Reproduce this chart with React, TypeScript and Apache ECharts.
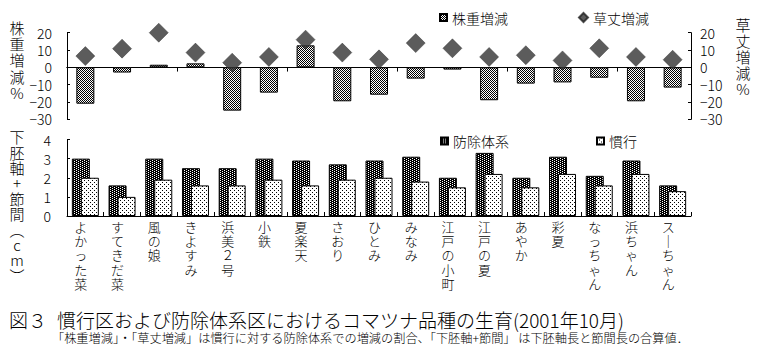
import React, { useEffect, useRef } from 'react';
import * as echarts from 'echarts';

const categories = ['よかった菜', 'すてきだ菜', '風の娘', 'きよすみ', '浜美２号', '小鉄', '夏楽天', 'さおり', 'ひとみ', 'みなみ', '江戸の小町', '江戸の夏', 'あやか', '彩夏', 'なっちゃん', '浜ちゃん', 'スーちゃん'];
const kabujuZogen = [-21, -3, 1.5, 2.3, -25, -14.6, 12.7, -19.6, -15.8, -6.5, -1.3, -19, -9.4, -8.7, -6, -19.6, -11.7];
const kusatakeZogen = [6.5, 10.8, 20, 8.5, 2.7, 6, 16, 8.5, 4.6, 14, 11, 6, 7, 4, 11, 6, 4.4];
const bojoTaikei = [3.0, 1.6, 3.0, 2.5, 2.5, 3.0, 2.9, 2.7, 2.9, 3.1, 2.0, 3.3, 2.0, 3.1, 2.1, 2.9, 1.6];
const kanko = [2.0, 1.0, 1.9, 1.6, 1.6, 1.9, 1.6, 1.9, 2.0, 1.8, 1.5, 2.2, 1.5, 2.2, 1.6, 2.2, 1.3];
const topTicks = { min: -30, max: 20, interval: 10 };
const bottomTicks = { min: 0, max: 4, interval: 1 };

const FONT = "'Noto Sans CJK JP', sans-serif";

function makePattern(w: number, h: number, bg: string, fg: string, dots: number[][]) {
  const c = document.createElement('canvas');
  c.width = w;
  c.height = h;
  const ctx = c.getContext('2d')!;
  ctx.fillStyle = bg;
  ctx.fillRect(0, 0, w, h);
  ctx.fillStyle = fg;
  dots.forEach(([x, y]) => ctx.fillRect(x, y, 1, 1));
  return { image: c, repeat: 'repeat', imageWidth: w, imageHeight: h } as any;
}

export default function App() {
  const ref = useRef<HTMLDivElement>(null);
  useEffect(() => {
    if (!ref.current) return;
    const chart = echarts.init(ref.current, null, { renderer: 'svg' });
    const checker = makePattern(2, 2, '#ffffff', '#000000', [[0, 0], [1, 1]]);
    const darkDots = makePattern(4, 2, '#000000', '#ffffff', [[0, 0], [2, 1]]);
    const lightDots = makePattern(4, 4, '#ffffff', '#000000', [[0, 0], [2, 2]]);

    const numFmt = (v: number) => String(v).replace('-', '−');
    const txt = { color: '#000', fontFamily: FONT, fontWeight: 300 };
    const line = { lineStyle: { color: '#000', width: 1 } };

    const option: any = {
      animation: false,
      textStyle: { fontFamily: FONT, color: '#000' },
      grid: [
        { left: 67, right: 71, top: 32.7, height: 86.6 },
        { left: 67, right: 71, top: 139.5, height: 76.5 },
      ],
      xAxis: [
        {
          type: 'category', gridIndex: 0, data: categories,
          axisLine: { show: true, onZero: true, onZeroAxisIndex: 0, ...line },
          axisTick: { show: true, inside: false, length: 4, ...line },
          axisLabel: { show: false },
        },
        {
          type: 'category', gridIndex: 0, data: categories,
          axisLine: { show: true, onZero: true, onZeroAxisIndex: 0, ...line },
          axisTick: { show: true, inside: true, length: 4, ...line },
          axisLabel: { show: false },
        },
        {
          type: 'category', gridIndex: 1, data: categories, position: 'bottom',
          axisLine: { show: true, onZero: false, ...line },
          axisTick: { show: true, inside: true, length: 4, ...line },
          axisLabel: {
            interval: 0, margin: 3, fontSize: 13, lineHeight: 14.3, ...txt,
            padding: [0, 9, 0, 0],
            formatter: (v: string) => v.replace(/ー/g, '｜').split('').join('\n'),
          },
        },
      ],
      yAxis: [
        {
          type: 'value', gridIndex: 0, position: 'left', ...topTicks,
          splitLine: { show: false },
          axisLine: { show: true, ...line },
          axisTick: { show: true, inside: true, length: 3, ...line },
          axisLabel: { margin: 15, fontSize: 14, ...txt, formatter: numFmt },
        },
        {
          type: 'value', gridIndex: 0, position: 'right', ...topTicks,
          splitLine: { show: false },
          axisLine: { show: true, ...line },
          axisTick: { show: true, inside: true, length: 3, ...line },
          axisLabel: { margin: 9, fontSize: 14, ...txt, formatter: numFmt },
        },
        {
          type: 'value', gridIndex: 1, position: 'left', ...bottomTicks,
          splitLine: { show: false },
          axisLine: { show: true, ...line },
          axisTick: { show: true, inside: true, length: 3, ...line },
          axisLabel: { margin: 16, fontSize: 14, ...txt },
        },
      ],
      legend: [
        {
          data: [{ name: '株重増減', icon: 'rect' }], left: 439, top: 10.5, padding: 0,
          itemWidth: 7, itemHeight: 7, selectedMode: false, textStyle: { fontSize: 14, ...txt },
        },
        {
          data: [{ name: '草丈増減', icon: 'diamond' }], left: 578, top: 10.5, padding: 0,
          itemWidth: 9, itemHeight: 9, selectedMode: false, textStyle: { fontSize: 14, ...txt },
        },
        {
          data: [{ name: '防除体系', icon: 'rect' }], left: 440, top: 134, padding: 0,
          itemWidth: 7, itemHeight: 7, selectedMode: false, textStyle: { fontSize: 14, ...txt },
        },
        {
          data: [{ name: '慣行', icon: 'rect' }], left: 596, top: 134, padding: 0,
          itemWidth: 7, itemHeight: 7, selectedMode: false, textStyle: { fontSize: 14, ...txt },
        },
      ],
      series: [
        {
          name: '株重増減', type: 'bar', xAxisIndex: 0, yAxisIndex: 0, data: kabujuZogen,
          barWidth: 18,
          itemStyle: { color: checker, borderColor: '#000', borderWidth: 1 },
        },
        {
          name: '草丈増減', type: 'scatter', xAxisIndex: 0, yAxisIndex: 1, data: kusatakeZogen,
          symbol: 'diamond', symbolSize: 19, z: 5,
          itemStyle: { color: '#333333', borderColor: '#222', borderWidth: 0.5 },
        },
        {
          name: '防除体系', type: 'bar', xAxisIndex: 2, yAxisIndex: 2, data: bojoTaikei,
          barWidth: 18, barGap: '-50%',
          itemStyle: { color: darkDots, borderColor: '#000', borderWidth: 1 },
        },
        {
          name: '慣行', type: 'bar', xAxisIndex: 2, yAxisIndex: 2, data: kanko,
          barWidth: 18, barGap: '-50%',
          itemStyle: { color: lightDots, borderColor: '#000', borderWidth: 1 },
        },
      ],
      graphic: [
        {
          type: 'text', x: 17, y: 19,
          style: { text: '株\n重\n増\n減\n%', fontSize: 15, fontWeight: 300, fontFamily: FONT, lineHeight: 16.3, align: 'center', verticalAlign: 'top', fill: '#000' },
        },
        {
          type: 'text', x: 743, y: 17,
          style: { text: '草\n丈\n増\n減\n%', fontSize: 15, fontWeight: 300, fontFamily: FONT, lineHeight: 15.8, align: 'center', verticalAlign: 'top', fill: '#000' },
        },
        {
          type: 'text', x: 17, y: 129,
          style: { text: '下\n胚\n軸\n+\n節\n間\n︵\nc\nm\n︶', fontSize: 15, fontWeight: 300, fontFamily: FONT, lineHeight: 15.4, align: 'center', verticalAlign: 'top', fill: '#000' },
        },
        {
          type: 'text', x: 9, y: 319,
          style: { text: '図３', fontSize: 19, fontWeight: 300, fontFamily: FONT, align: 'left', verticalAlign: 'middle', fill: '#000' },
        },
        {
          type: 'text', x: 57, y: 319,
          style: { text: '慣行区および防除体系区におけるコマツナ品種の生育(2001年10月)', fontSize: 19, fontWeight: 300, fontFamily: FONT, align: 'left', verticalAlign: 'middle', fill: '#000' },
        },
        {
          type: 'text', x: 52, y: 338,
          style: { text: '「株重増減」・「草丈増減」は慣行に対する防除体系での増減の割合、「下胚軸+節間」 は下胚軸長と節間長の合算値．', fontSize: 12.2, fontWeight: 300, fontFamily: FONT, align: 'left', verticalAlign: 'middle', fill: '#000' },
        },
      ],
    };
    chart.setOption(option);
    return () => chart.dispose();
  }, []);
  return <div ref={ref} style={{ width: 762, height: 355, position: 'absolute', left: 0, top: 0, background: '#fff' }} />;
}
